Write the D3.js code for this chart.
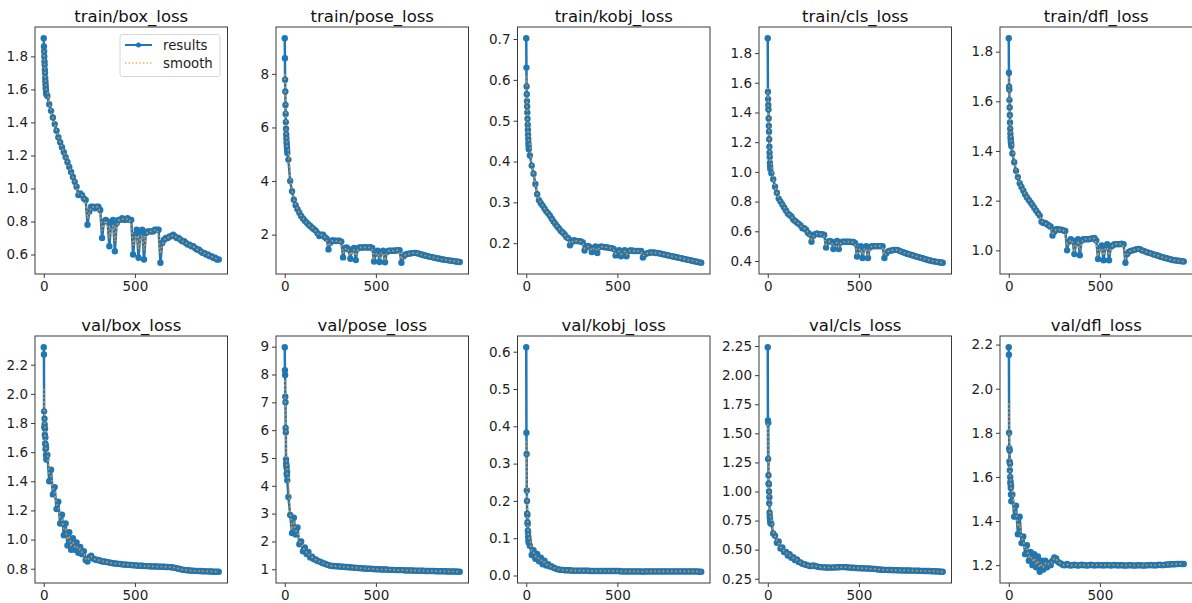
<!DOCTYPE html>
<html>
<head>
<meta charset="utf-8">
<title>Training results</title>
<script src="https://cdn.jsdelivr.net/npm/d3@7"></script>
<style>
  html, body { margin: 0; padding: 0; background: #fff; }
  svg { display: block; font-family: "DejaVu Sans", "Liberation Sans", sans-serif; }
</style>
</head>
<body>
<svg id="chart" width="1192" height="603"></svg>
<script>
// Epochs at which the loss values are recorded (every epoch at the start, then every 10).
const epochs = [0,1,2,3,4,5,6,7,8,9,10,11,12,13,14,
  20,30,40,50,60,70,80,90,100,110,
  120,130,140,150,160,170,180,190,200,210,
  220,230,240,250,260,270,280,290,300,310,
  320,330,340,350,360,370,380,390,400,410,
  420,430,440,450,460,470,480,490,500,510,
  520,530,540,550,560,570,580,590,600,610,
  620,630,640,650,660,670,680,690,700,710,
  720,730,740,750,760,770,780,790,800,810,
  820,830,840,850,860,870,880,890,900,910,
  920,930,940,950,960];

const trainBoxLoss = [1.91,1.86,1.83,1.80,1.77,1.75,1.72,1.70,1.67,1.65,1.63,1.61,1.60,1.58,1.57,
  1.56,1.51,1.47,1.43,1.39,1.35,1.31,1.28,1.25,1.22,
  1.19,1.16,1.13,1.10,1.07,1.04,1.01,0.96,0.97,0.96,
  0.94,0.93,0.78,0.86,0.89,0.89,0.88,0.89,0.89,0.87,
  0.70,0.80,0.81,0.80,0.65,0.79,0.81,0.62,0.79,0.81,
  0.81,0.82,0.81,0.81,0.82,0.81,0.81,0.60,0.72,0.75,
  0.58,0.73,0.75,0.57,0.73,0.74,0.74,0.74,0.74,0.75,
  0.75,0.75,0.55,0.67,0.69,0.70,0.70,0.71,0.71,0.72,
  0.71,0.70,0.70,0.69,0.68,0.68,0.67,0.66,0.66,0.65,
  0.65,0.64,0.63,0.63,0.62,0.61,0.61,0.60,0.60,0.59,
  0.59,0.58,0.58,0.57,0.57];

const trainPoseLoss = [9.33,8.58,7.78,7.34,6.84,6.50,6.20,5.95,5.75,5.60,5.45,5.35,5.25,5.15,5.05,
  4.80,4.00,3.62,3.30,3.10,2.95,2.82,2.70,2.60,2.52,
  2.45,2.38,2.32,2.26,2.20,2.15,2.05,1.95,2.00,2.00,
  1.90,1.85,1.45,1.70,1.78,1.78,1.76,1.77,1.77,1.74,
  1.15,1.50,1.52,1.45,1.10,1.45,1.50,1.05,1.48,1.52,
  1.52,1.52,1.53,1.52,1.52,1.53,1.50,1.00,1.30,1.40,
  0.98,1.35,1.40,0.97,1.35,1.40,1.40,1.40,1.40,1.41,
  1.42,1.42,0.95,1.18,1.25,1.28,1.29,1.30,1.31,1.32,
  1.32,1.30,1.28,1.26,1.24,1.22,1.20,1.19,1.17,1.16,
  1.14,1.13,1.11,1.10,1.08,1.07,1.06,1.05,1.04,1.03,
  1.02,1.01,1.00,0.99,0.98];

const trainKobjLoss = [0.702,0.630,0.584,0.565,0.548,0.535,0.520,0.505,0.490,0.478,0.466,0.455,0.445,0.437,0.430,
  0.415,0.390,0.370,0.345,0.320,0.305,0.298,0.292,0.285,0.278,
  0.273,0.267,0.260,0.253,0.247,0.241,0.236,0.230,0.226,0.222,
  0.215,0.212,0.195,0.203,0.207,0.206,0.205,0.205,0.204,0.202,
  0.182,0.192,0.193,0.190,0.178,0.188,0.192,0.176,0.190,0.192,
  0.191,0.190,0.190,0.189,0.188,0.188,0.186,0.170,0.178,0.183,
  0.168,0.180,0.183,0.168,0.180,0.182,0.182,0.181,0.181,0.181,
  0.181,0.181,0.165,0.172,0.175,0.176,0.177,0.177,0.177,0.176,
  0.176,0.175,0.174,0.173,0.172,0.171,0.170,0.169,0.168,0.167,
  0.166,0.165,0.164,0.163,0.162,0.161,0.160,0.159,0.158,0.157,
  0.156,0.155,0.154,0.153,0.152];

const trainClsLoss = [1.90,1.54,1.49,1.45,1.42,1.36,1.31,1.27,1.22,1.17,1.13,1.10,1.06,1.04,1.02,
  0.99,0.95,0.90,0.86,0.82,0.80,0.78,0.76,0.74,0.72,
  0.71,0.70,0.68,0.67,0.66,0.65,0.64,0.62,0.62,0.61,
  0.59,0.58,0.53,0.57,0.58,0.585,0.58,0.58,0.58,0.575,
  0.49,0.53,0.535,0.53,0.48,0.52,0.535,0.48,0.525,0.53,
  0.53,0.53,0.53,0.53,0.528,0.528,0.52,0.43,0.48,0.50,
  0.42,0.49,0.50,0.42,0.49,0.50,0.50,0.50,0.50,0.50,
  0.50,0.50,0.42,0.45,0.465,0.47,0.47,0.475,0.475,0.475,
  0.47,0.465,0.46,0.455,0.45,0.447,0.443,0.44,0.436,0.432,
  0.428,0.425,0.421,0.418,0.414,0.41,0.407,0.404,0.40,0.398,
  0.396,0.394,0.392,0.39,0.388];

const trainDflLoss = [1.854,1.715,1.659,1.648,1.605,1.575,1.545,1.515,1.490,1.470,1.455,1.445,1.435,1.430,1.420,
  1.390,1.355,1.320,1.295,1.270,1.255,1.240,1.225,1.213,1.203,
  1.193,1.183,1.172,1.160,1.150,1.140,1.115,1.110,1.110,1.105,
  1.100,1.095,1.060,1.075,1.085,1.085,1.083,1.083,1.080,1.078,
  1.000,1.035,1.045,1.040,0.985,1.030,1.045,0.980,1.040,1.045,
  1.045,1.045,1.045,1.047,1.048,1.050,1.040,0.965,1.010,1.020,
  0.960,1.015,1.025,0.960,1.015,1.020,1.025,1.025,1.025,1.025,
  1.027,1.025,0.950,0.985,0.995,0.998,1.000,1.002,1.005,1.006,
  1.005,1.000,0.998,0.995,0.992,0.990,0.988,0.985,0.982,0.980,
  0.978,0.975,0.973,0.971,0.969,0.967,0.965,0.963,0.961,0.960,
  0.959,0.958,0.957,0.956,0.955];

const valBoxLoss = [2.32,2.27,1.88,1.77,1.83,1.79,1.72,1.76,1.66,1.70,1.62,1.65,1.58,1.63,1.55,
  1.58,1.40,1.48,1.31,1.36,1.21,1.26,1.11,1.17,1.03,
  1.11,0.96,1.05,0.93,1.01,0.93,0.98,0.91,0.95,0.90,
  0.92,0.86,0.85,0.88,0.89,0.87,0.865,0.86,0.86,0.855,
  0.85,0.85,0.848,0.845,0.843,0.84,0.838,0.836,0.835,0.833,
  0.832,0.83,0.829,0.828,0.827,0.826,0.825,0.824,0.823,0.822,
  0.821,0.82,0.82,0.819,0.818,0.818,0.817,0.816,0.816,0.815,
  0.815,0.814,0.814,0.813,0.813,0.812,0.812,0.811,0.81,0.808,
  0.806,0.803,0.80,0.797,0.794,0.792,0.79,0.789,0.788,0.787,
  0.786,0.785,0.785,0.784,0.784,0.783,0.783,0.782,0.782,0.781,
  0.781,0.78,0.78,0.779,0.779];

const valPoseLoss = [8.98,8.15,7.98,7.20,7.00,6.08,5.92,4.95,4.80,4.72,4.65,4.45,4.38,4.50,4.20,
  3.60,2.95,2.30,2.85,2.25,2.50,1.90,2.00,1.65,1.78,
  1.55,1.62,1.42,1.45,1.36,1.35,1.30,1.28,1.25,1.22,
  1.20,1.17,1.15,1.13,1.12,1.12,1.11,1.11,1.10,1.09,
  1.09,1.08,1.08,1.07,1.07,1.06,1.06,1.05,1.05,1.04,
  1.04,1.03,1.03,1.02,1.02,1.02,1.01,1.01,1.00,1.00,
  1.00,0.99,0.99,0.99,0.99,0.98,0.98,0.98,0.98,0.97,
  0.97,0.97,0.97,0.97,0.96,0.96,0.96,0.96,0.96,0.95,
  0.95,0.95,0.95,0.95,0.95,0.94,0.94,0.94,0.94,0.94,
  0.94,0.93,0.93,0.93,0.93,0.93,0.93,0.92,0.92,0.92,
  0.92,0.92,0.92,0.91,0.91];

const valKobjLoss = [0.612,0.383,0.326,0.228,0.200,0.166,0.162,0.143,0.138,0.120,0.115,0.105,0.098,0.092,0.088,
  0.080,0.055,0.068,0.045,0.058,0.038,0.048,0.030,0.040,0.027,
  0.030,0.024,0.024,0.021,0.019,0.017,0.016,0.015,0.015,0.014,
  0.014,0.014,0.014,0.013,0.013,0.013,0.013,0.013,0.013,0.013,
  0.013,0.013,0.013,0.012,0.012,0.012,0.012,0.012,0.012,0.012,
  0.012,0.012,0.012,0.012,0.012,0.012,0.012,0.012,0.012,0.012,
  0.011,0.011,0.011,0.011,0.011,0.011,0.011,0.011,0.011,0.011,
  0.011,0.011,0.010,0.011,0.011,0.011,0.011,0.011,0.011,0.011,
  0.011,0.011,0.011,0.011,0.011,0.011,0.011,0.011,0.011,0.011,
  0.011,0.011,0.011,0.011,0.011,0.011,0.011,0.011,0.011,0.011,
  0.011,0.011,0.011,0.010,0.010];

const valClsLoss = [2.24,1.61,1.28,1.59,1.14,1.07,1.06,1.00,0.90,0.95,0.82,0.79,0.77,0.75,0.73,
  0.72,0.64,0.62,0.56,0.57,0.51,0.52,0.48,0.48,0.45,
  0.46,0.43,0.435,0.41,0.415,0.395,0.39,0.38,0.375,0.37,
  0.365,0.36,0.36,0.365,0.36,0.355,0.35,0.35,0.348,0.348,
  0.347,0.347,0.346,0.346,0.347,0.348,0.348,0.349,0.35,0.35,
  0.35,0.349,0.348,0.346,0.345,0.344,0.343,0.342,0.341,0.34,
  0.34,0.339,0.339,0.338,0.337,0.336,0.335,0.334,0.332,0.33,
  0.328,0.327,0.326,0.326,0.325,0.325,0.325,0.324,0.324,0.323,
  0.323,0.322,0.322,0.322,0.321,0.321,0.321,0.32,0.32,0.32,
  0.319,0.319,0.318,0.318,0.317,0.317,0.316,0.316,0.315,0.315,
  0.314,0.313,0.312,0.311,0.31];

const valDflLoss = [2.188,2.154,1.800,1.730,1.670,1.720,1.630,1.660,1.600,1.570,1.580,1.550,1.520,1.560,1.490,
  1.520,1.420,1.470,1.340,1.420,1.300,1.330,1.250,1.290,1.220,
  1.260,1.200,1.250,1.190,1.240,1.170,1.220,1.180,1.220,1.190,
  1.210,1.200,1.220,1.235,1.230,1.215,1.210,1.205,1.200,1.200,
  1.205,1.200,1.198,1.200,1.202,1.200,1.198,1.200,1.202,1.200,
  1.200,1.198,1.200,1.202,1.200,1.199,1.200,1.201,1.200,1.200,
  1.199,1.200,1.201,1.200,1.198,1.200,1.201,1.200,1.199,1.200,
  1.200,1.199,1.198,1.199,1.200,1.200,1.199,1.198,1.199,1.200,
  1.200,1.199,1.198,1.199,1.200,1.200,1.201,1.200,1.199,1.200,
  1.201,1.202,1.200,1.201,1.202,1.203,1.203,1.204,1.204,1.204,
  1.205,1.205,1.206,1.205,1.205];

// Panel titles, in reading order (two rows of five).
const titles = ["train/box_loss", "train/pose_loss", "train/kobj_loss", "train/cls_loss", "train/dfl_loss",
                "val/box_loss", "val/pose_loss", "val/kobj_loss", "val/cls_loss", "val/dfl_loss"];
const seriesValues = [trainBoxLoss, trainPoseLoss, trainKobjLoss, trainClsLoss, trainDflLoss,
                      valBoxLoss, valPoseLoss, valKobjLoss, valClsLoss, valDflLoss];

// Tick labels for each panel.
const xTickLabels = ["0", "500"];
const yTickLabels = [
  ["0.6", "0.8", "1.0", "1.2", "1.4", "1.6", "1.8"],
  ["2", "4", "6", "8"],
  ["0.2", "0.3", "0.4", "0.5", "0.6", "0.7"],
  ["0.4", "0.6", "0.8", "1.0", "1.2", "1.4", "1.6", "1.8"],
  ["1.0", "1.2", "1.4", "1.6", "1.8"],
  ["0.8", "1.0", "1.2", "1.4", "1.6", "1.8", "2.0", "2.2"],
  ["1", "2", "3", "4", "5", "6", "7", "8", "9"],
  ["0.0", "0.1", "0.2", "0.3", "0.4", "0.5", "0.6"],
  ["0.25", "0.50", "0.75", "1.00", "1.25", "1.50", "1.75", "2.00", "2.25"],
  ["1.2", "1.4", "1.6", "1.8", "2.0", "2.2"]
];
const legendLabels = ["results", "smooth"];

// ---- layout ----
const colLeft = [35, 276, 517.5, 759, 1000];
const rowTop = [27, 336];
const panelW = 192.5, panelH = 247;
const BLUE = "#1f77b4", ORANGE = "#ff8c1a";

// Gaussian smoothing along the epoch axis; the kernel widens where samples are sparser.
function gaussianSmooth(xs, ys) {
  return ys.map((_, i) => {
    const sigma = xs[i] < 15 ? 3 : 6;
    let sw = 0, s = 0;
    for (let j = 0; j < ys.length; j++) {
      const d = xs[i] - xs[j];
      if (Math.abs(d) > 4 * sigma) continue;
      const w = Math.exp(-(d * d) / (2 * sigma * sigma));
      sw += w; s += w * ys[j];
    }
    return s / sw;
  });
}

// Autoscale: data extent padded by 5% on each side.
function padded(ext) {
  const r = ext[1] - ext[0];
  return [ext[0] - 0.05 * r, ext[1] + 0.05 * r];
}

const svg = d3.select("#chart");

titles.forEach((title, k) => {
  const col = k % 5, row = Math.floor(k / 5);
  const x0 = colLeft[col], y0 = rowTop[row];
  const values = seriesValues[k];
  const smooth = gaussianSmooth(epochs, values);

  const x = d3.scaleLinear().domain(padded(d3.extent(epochs))).range([x0, x0 + panelW]);
  const y = d3.scaleLinear().domain(padded(d3.extent(values))).range([y0 + panelH, y0]);

  const g = svg.append("g");

  g.append("rect").attr("x", x0).attr("y", y0).attr("width", panelW).attr("height", panelH)
    .attr("fill", "#fff");

  const pts = epochs.map((e, i) => [e, values[i]]);
  const line = d3.line().x(d => x(d[0])).y(d => y(d[1]));

  // results: line with point markers
  g.append("path").datum(pts).attr("d", line)
    .attr("fill", "none").attr("stroke", BLUE).attr("stroke-width", 2.5)
    .attr("stroke-linejoin", "round");
  g.append("g").selectAll("circle").data(pts).join("circle")
    .attr("cx", d => x(d[0])).attr("cy", d => y(d[1])).attr("r", 3.2)
    .attr("fill", BLUE);

  // smooth: dotted orange line
  const sPts = epochs.map((e, i) => [e, smooth[i]]);
  g.append("path").datum(sPts).attr("d", line)
    .attr("fill", "none").attr("stroke", ORANGE).attr("stroke-width", 1.6)
    .attr("stroke-dasharray", "1.6,2.6");

  // frame
  g.append("rect").attr("x", x0).attr("y", y0).attr("width", panelW).attr("height", panelH)
    .attr("fill", "none").attr("stroke", "#3a3a3a").attr("stroke-width", 1);

  // axes
  const xAxis = d3.axisBottom(x).tickValues(xTickLabels.map(Number))
    .tickFormat((d, i) => xTickLabels[i]).tickSize(4).tickPadding(3.5);
  const gx = g.append("g").attr("transform", `translate(0,${y0 + panelH})`).call(xAxis);
  const yLabels = yTickLabels[k];
  const yAxis = d3.axisLeft(y).tickValues(yLabels.map(Number))
    .tickFormat((d, i) => yLabels[i]).tickSize(4).tickPadding(3);
  const gy = g.append("g").attr("transform", `translate(${x0},0)`).call(yAxis);
  [gx, gy].forEach(a => {
    a.select(".domain").remove();
    a.selectAll(".tick line").attr("stroke", "#3a3a3a").attr("stroke-width", 1);
    a.selectAll(".tick text").attr("fill", "#1e1e1e")
      .style("font-size", "13.5px").style("font-family", "'DejaVu Sans', sans-serif");
  });

  // title
  g.append("text").attr("x", x0 + panelW / 2).attr("y", y0 - 5.5)
    .attr("text-anchor", "middle").attr("fill", "#111")
    .style("font-size", "16.5px").text(title);

  // legend in the first panel
  if (k === 0) {
    const lw = 100, lh = 42;
    const lx = x0 + panelW - 7.5 - lw, ly = y0 + 7.5;
    const lg = g.append("g");
    lg.append("rect").attr("x", lx).attr("y", ly).attr("width", lw).attr("height", lh)
      .attr("rx", 2.5).attr("fill", "#fff").attr("fill-opacity", 0.8)
      .attr("stroke", "#d6d6d6").attr("stroke-width", 1);
    const rows = [ly + 10.5, ly + 28.5];
    lg.append("line").attr("x1", lx + 5).attr("x2", lx + 32).attr("y1", rows[0]).attr("y2", rows[0])
      .attr("stroke", BLUE).attr("stroke-width", 2);
    lg.append("circle").attr("cx", lx + 18.5).attr("cy", rows[0]).attr("r", 2.5).attr("fill", BLUE);
    lg.append("line").attr("x1", lx + 5).attr("x2", lx + 32).attr("y1", rows[1]).attr("y2", rows[1])
      .attr("stroke", ORANGE).attr("stroke-width", 1.4).attr("stroke-dasharray", "1.4,2.2")
      .attr("stroke-opacity", 0.75);
    legendLabels.forEach((t, i) => {
      lg.append("text").attr("x", lx + 43).attr("y", rows[i]).attr("dy", "0.35em")
        .attr("fill", "#1e1e1e").style("font-size", "13.3px").text(t);
    });
  }
});
</script>
</body>
</html>
